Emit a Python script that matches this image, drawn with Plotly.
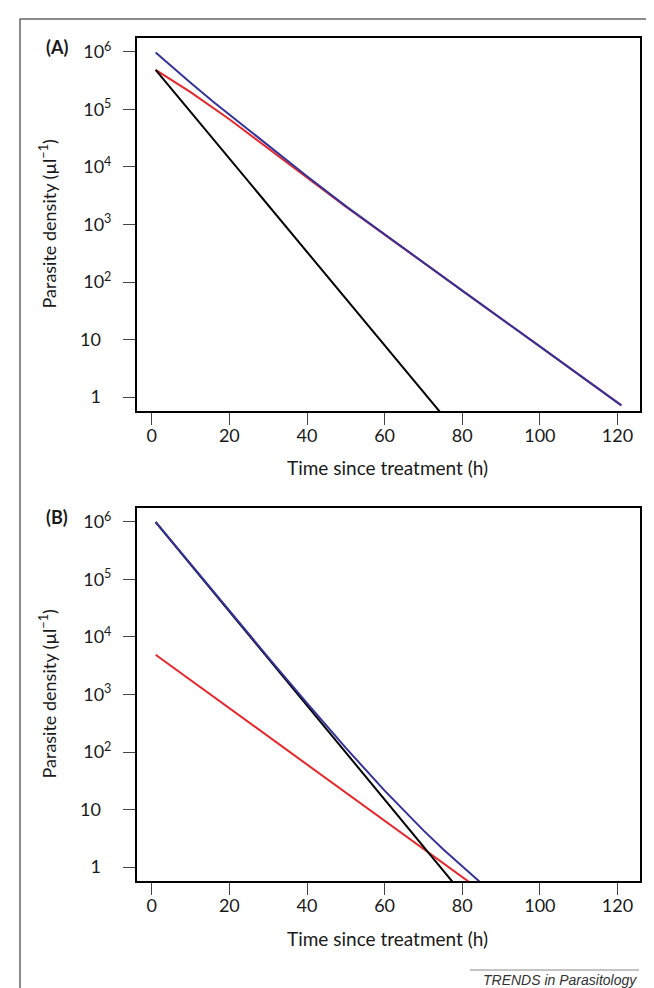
import plotly.graph_objects as go

# ---------------- data (parasite density per µl vs hours since treatment) ----------------
# Panel A
a_red_t = [1, 10, 20, 35, 50, 65, 80, 100, 121]
a_red_v = [490000, 200000, 67600, 11700, 2040, 380, 70.8, 7.59, 0.716]
a_black_t = [1, 75]
a_black_v = [490000, 0.48]
a_blue_t = [1, 5, 10, 16, 20, 25, 30, 35, 40, 50, 60, 80, 100, 121]
a_blue_v = [977000, 562000, 291000, 134000, 81600, 43300, 23200, 12600, 6890, 2090, 673, 70.8, 7.59, 0.716]

# Panel B
b_red_t = [1, 85]
b_red_v = [4900, 0.382]
b_black_t = [1, 80]
b_black_v = [995000, 0.345]
b_blue_t = [1, 10, 20, 30, 40, 50, 60, 65, 70, 75, 80, 85]
b_blue_v = [1000000, 185500, 28500, 4433, 707, 117.7, 21.3, 9.45, 4.34, 2.06, 1.016, 0.517]

x_ticks = [0, 20, 40, 60, 80, 100, 120]
y_tickvals = [1, 10, 100, 1000, 10000, 100000, 1000000]
y_ticktext = ["1\u2007", "10\u2007", "10<sup>2</sup>", "10<sup>3</sup>", "10<sup>4</sup>", "10<sup>5</sup>", "10<sup>6</sup>"]

panel_labels = ["(A)", "(B)"]
x_title = "Time since treatment (h)"
y_title = "Parasite density (\u00b5l<sup>\u22121</sup>)"
source = "TRENDS in Parasitology"

RED = "#e8262a"
BLUE = "#333399"
BLACK = "#000000"

W, H = 654, 988
FONT = "Lato"
TXT = "#1a1a1a"

fig = go.Figure()

def add(t, v, color, xa, ya):
    fig.add_trace(go.Scatter(x=t, y=v, mode="lines", line=dict(color=color, width=2),
                             xaxis=xa, yaxis=ya, showlegend=False, hoverinfo="skip"))

add(a_red_t, a_red_v, RED, "x", "y")
add(a_black_t, a_black_v, BLACK, "x", "y")
add(a_blue_t, a_blue_v, BLUE, "x", "y")
add(b_red_t, b_red_v, RED, "x2", "y2")
add(b_black_t, b_black_v, BLACK, "x2", "y2")
add(b_blue_t, b_blue_v, BLUE, "x2", "y2")

def px_x(p):
    return p / W

def px_y(p):
    return 1 - p / H

xdom = [px_x(129), px_x(632)]
ydomA = [px_y(403), px_y(30)]
ydomB = [px_y(873), px_y(500)]

xcommon = dict(range=[-3.8, 125.8], tickvals=x_ticks, ticks="outside", ticklen=12, tickwidth=1.2,
               tickcolor="#444", showline=True, linecolor="black", linewidth=2, mirror=True,
               showgrid=False, zeroline=False, ticklabelstandoff=-5,
               tickfont=dict(family=FONT, size=18, color=TXT), domain=xdom)
ycommon = dict(type="log", range=[-0.243, 6.243], tickvals=y_tickvals, ticktext=y_ticktext,
               ticks="outside", ticklen=12, tickwidth=1.2, tickcolor="#444",
               showline=True, linecolor="black", linewidth=2, mirror=True,
               showgrid=False, zeroline=False, ticklabelstandoff=8,
               tickfont=dict(family=FONT, size=18, color=TXT))

fig.update_layout(
    width=W, height=H, margin=dict(l=0, r=0, t=0, b=0),
    plot_bgcolor="white", paper_bgcolor="white",
    xaxis=dict(**xcommon, anchor="y"),
    yaxis=dict(**ycommon, domain=ydomA, anchor="x"),
    xaxis2=dict(**xcommon, anchor="y2"),
    yaxis2=dict(**ycommon, domain=ydomB, anchor="x2"),
)

anns = []
for lbl, ytop, yc, xt in [(panel_labels[0], 39, 216.5, 459), (panel_labels[1], 509, 686.5, 930)]:
    anns.append(dict(text="<b>%s</b>" % lbl, x=px_x(49), y=px_y(ytop), xref="paper", yref="paper",
                     showarrow=False, xanchor="center", yanchor="middle",
                     font=dict(family=FONT, size=18, color=TXT)))
    anns.append(dict(text=y_title, x=px_x(40), y=px_y(yc), xref="paper", yref="paper",
                     showarrow=False, xanchor="center", yanchor="middle", textangle=-90,
                     font=dict(family=FONT, size=18, color=TXT)))
    anns.append(dict(text=x_title, x=px_x(379), y=px_y(xt), xref="paper", yref="paper",
                     showarrow=False, xanchor="center", yanchor="middle",
                     font=dict(family=FONT, size=19, color=TXT)))
anns.append(dict(text="<i>%s</i>" % source, x=px_x(631), y=px_y(972), xref="paper", yref="paper",
                 showarrow=False, xanchor="right", yanchor="middle",
                 font=dict(family="Liberation Sans", size=14, color="#333")))
fig.update_layout(annotations=anns)

fig.update_layout(shapes=[
    dict(type="rect", xref="paper", yref="paper", x0=px_x(12), x1=px_x(651), y0=px_y(1000), y1=px_y(11),
         line=dict(color="#666", width=1.5), fillcolor="rgba(0,0,0,0)", layer="below"),
    dict(type="line", xref="paper", yref="paper", x0=px_x(462), x1=px_x(631), y0=px_y(962), y1=px_y(962),
         line=dict(color="#888", width=1)),
])

fig.write_html("out.html")
